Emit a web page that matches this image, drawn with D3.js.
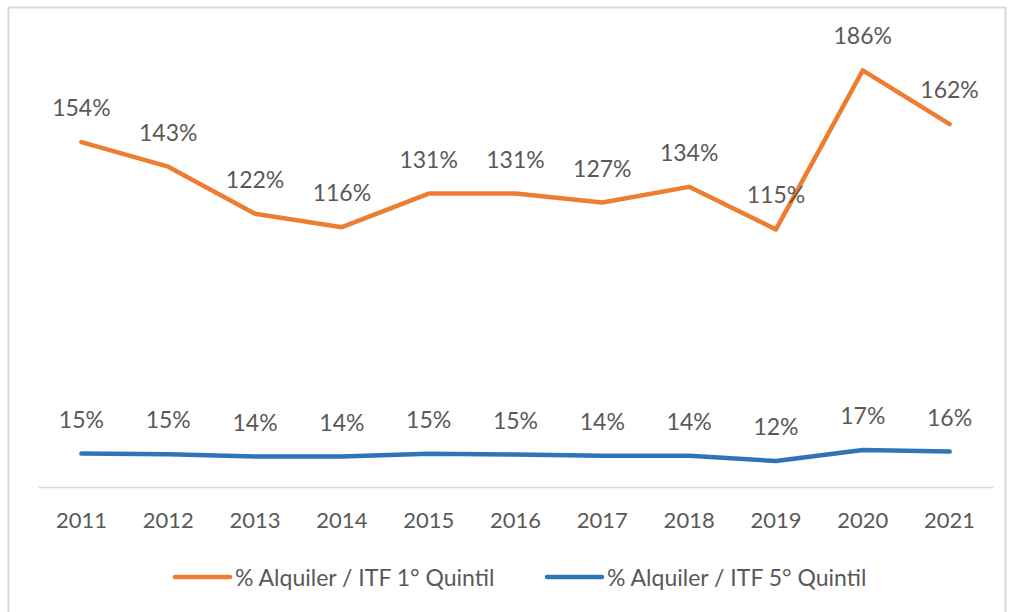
<!DOCTYPE html>
<html>
<head>
<meta charset="utf-8">
<script src="https://cdn.jsdelivr.net/npm/d3@7"></script>
<style>
  body { margin: 0; background: #fff; }
  svg { display: block; font-family: Lato, "Open Sans", sans-serif; }
</style>
</head>
<body>
<svg id="chart" width="1009" height="612"></svg>
<script>
const years = ['2011', '2012', '2013', '2014', '2015', '2016', '2017', '2018', '2019', '2020', '2021'];
const quintil1 = [154, 143, 122, 116, 131, 131, 127, 134, 115, 186, 162];
const quintil5 = [14.9, 14.6, 13.6, 13.6, 14.8, 14.5, 14.0, 14.0, 11.6, 16.5, 15.8];
const seriesNames = ['% Alquiler / ITF 1° Quintil', '% Alquiler / ITF 5° Quintil'];
const seriesColors = ['#ED7D31', '#2E75B6'];

const svg = d3.select('#chart');
const textColor = '#595959';

// chart frame
svg.append('rect')
  .attr('x', 8.5).attr('y', 7.5)
  .attr('width', 997).attr('height', 640)
  .attr('fill', 'none')
  .attr('stroke', '#D9D9D9')
  .attr('stroke-width', 2);

const left = 38, right = 993, baseY = 487, topY = 39;

const x = d3.scaleBand().domain(years).range([left, right]);
const y = d3.scaleLinear().domain([0, 200]).range([baseY, topY]);

// category axis
const xAxis = svg.append('g')
  .attr('transform', `translate(0,${baseY})`)
  .call(d3.axisBottom(x).tickSize(0).tickPadding(25));
xAxis.select('.domain').attr('stroke', '#D9D9D9').attr('stroke-width', 1.5);
xAxis.selectAll('text')
  .attr('fill', textColor)
  .style('font-size', '22px')
  .style('font-family', 'Lato, "Open Sans", sans-serif');

const series = [quintil1, quintil5];
const line = d3.line()
  .x((d, i) => x(years[i]) + x.bandwidth() / 2)
  .y(d => y(d));

series.forEach((values, s) => {
  svg.append('path')
    .datum(values)
    .attr('d', line)
    .attr('fill', 'none')
    .attr('stroke', seriesColors[s])
    .attr('stroke-width', 4.5)
    .attr('stroke-linejoin', 'round')
    .attr('stroke-linecap', 'round');

  svg.append('g')
    .selectAll('text')
    .data(values)
    .enter()
    .append('text')
    .attr('x', (d, i) => x(years[i]) + x.bandwidth() / 2)
    .attr('y', d => y(d) - 26)
    .attr('text-anchor', 'middle')
    .attr('fill', textColor)
    .style('font-size', '23px')
    .text(d => `${Math.round(d)}%`);
});

// legend
const legendY = 577;
const legendItems = [{ x: 175 }, { x: 547 }];
legendItems.forEach((item, s) => {
  svg.append('line')
    .attr('x1', item.x).attr('x2', item.x + 55)
    .attr('y1', legendY).attr('y2', legendY)
    .attr('stroke', seriesColors[s])
    .attr('stroke-width', 4.5)
    .attr('stroke-linecap', 'round');
  svg.append('text')
    .attr('x', item.x + 60)
    .attr('y', legendY)
    .attr('dominant-baseline', 'central')
    .attr('fill', textColor)
    .style('font-size', '23px')
    .text(seriesNames[s]);
});
</script>
</body>
</html>
